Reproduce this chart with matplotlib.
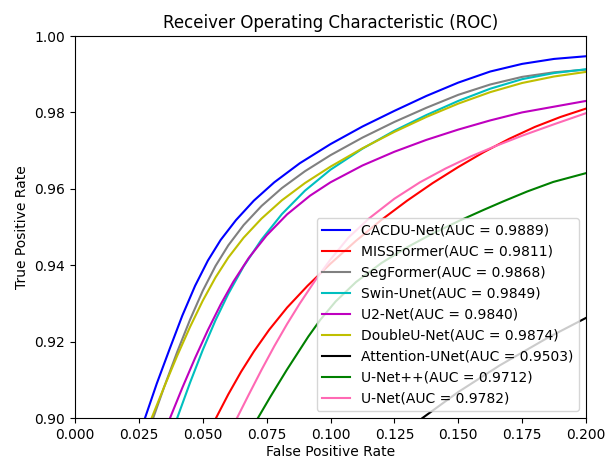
import matplotlib
matplotlib.use("Agg")

import matplotlib.pyplot as plt

# ROC curves (zoomed region), one FPR/TPR pair per model
cacdu_fpr = [0.0274, 0.032, 0.037, 0.042, 0.047, 0.052, 0.057, 0.063, 0.070, 0.078,
             0.088, 0.100, 0.1125, 0.125, 0.1375, 0.150, 0.1625, 0.175, 0.1875, 0.200]
cacdu_tpr = [0.900, 0.909, 0.918, 0.9268, 0.9346, 0.9412, 0.9466, 0.9518, 0.9569, 0.9617,
             0.9667, 0.9717, 0.9763, 0.9804, 0.9843, 0.9878, 0.9907, 0.9927, 0.9940, 0.9947]

missformer_fpr = [0.0552, 0.060, 0.065, 0.070, 0.076, 0.083, 0.091, 0.100, 0.110, 0.120,
                  0.130, 0.140, 0.150, 0.160, 0.170, 0.180, 0.190, 0.200]
missformer_tpr = [0.900, 0.9062, 0.9121, 0.9174, 0.9231, 0.9289, 0.9346, 0.9404, 0.9464,
                  0.9519, 0.9569, 0.9615, 0.9657, 0.9696, 0.9731, 0.9762, 0.9788, 0.9810]

segformer_fpr = [0.0306, 0.035, 0.040, 0.045, 0.050, 0.055, 0.060, 0.066, 0.073, 0.081,
                 0.090, 0.100, 0.1125, 0.125, 0.1375, 0.150, 0.1625, 0.175, 0.1875, 0.200]
segformer_tpr = [0.900, 0.9083, 0.9173, 0.9257, 0.9333, 0.9398, 0.9452, 0.9505, 0.9555,
                 0.9602, 0.9646, 0.9688, 0.9734, 0.9775, 0.9812, 0.9846, 0.9873, 0.9893,
                 0.9905, 0.9912]

swin_fpr = [0.040, 0.045, 0.050, 0.055, 0.060, 0.066, 0.073, 0.081, 0.090, 0.100, 0.1125,
            0.125, 0.1375, 0.150, 0.1625, 0.175, 0.1875, 0.200]
swin_tpr = [0.900, 0.9092, 0.9178, 0.9256, 0.9325, 0.9397, 0.9467, 0.9534, 0.9595, 0.9650,
            0.9705, 0.9752, 0.9793, 0.9830, 0.9862, 0.9887, 0.9903, 0.9913]

u2net_fpr = [0.0372, 0.042, 0.047, 0.052, 0.057, 0.062, 0.068, 0.075, 0.083, 0.092, 0.100,
             0.1125, 0.125, 0.1375, 0.150, 0.1625, 0.175, 0.1875, 0.200]
u2net_tpr = [0.900, 0.9079, 0.9157, 0.923, 0.9297, 0.9357, 0.9419, 0.9478, 0.9533, 0.9582,
             0.9617, 0.9661, 0.9697, 0.9728, 0.9755, 0.9779, 0.9800, 0.9815, 0.9830]

doubleu_fpr = [0.030, 0.035, 0.040, 0.045, 0.050, 0.055, 0.060, 0.066, 0.073, 0.081, 0.090,
               0.100, 0.1125, 0.125, 0.1375, 0.150, 0.1625, 0.175, 0.1875, 0.200]
doubleu_tpr = [0.900, 0.9083, 0.9163, 0.9238, 0.9307, 0.9368, 0.9420, 0.9472, 0.9522, 0.9570,
               0.9615, 0.9658, 0.9706, 0.9749, 0.9788, 0.9823, 0.9853, 0.9877, 0.9894, 0.9906]

attention_fpr = [0.136, 0.150, 0.1663, 0.185, 0.200]
attention_tpr = [0.900, 0.9068, 0.9138, 0.921, 0.9262]

unetpp_fpr = [0.0716, 0.0765, 0.0829, 0.0913, 0.096, 0.102, 0.110, 0.120, 0.130, 0.140,
              0.150, 0.160, 0.1676, 0.177, 0.1872, 0.200]
unetpp_tpr = [0.900, 0.9056, 0.9126, 0.9213, 0.9257, 0.9305, 0.9356, 0.9406, 0.9447, 0.9483,
              0.9515, 0.9545, 0.9567, 0.9593, 0.9618, 0.9641]

unet_fpr = [0.0634, 0.068, 0.073, 0.078, 0.083, 0.088, 0.094, 0.100, 0.107, 0.115, 0.125,
            0.135, 0.145, 0.155, 0.165, 0.175, 0.1875, 0.200]
unet_tpr = [0.900, 0.9061, 0.9126, 0.9188, 0.9246, 0.9300, 0.9360, 0.9415, 0.9472, 0.9522,
            0.9574, 0.9617, 0.9653, 0.9685, 0.9713, 0.9739, 0.9769, 0.9798]

models = ["CACDU-Net", "MISSFormer", "SegFormer", "Swin-Unet", "U2-Net",
          "DoubleU-Net", "Attention-UNet", "U-Net++", "U-Net"]
aucs = [0.9889, 0.9811, 0.9868, 0.9849, 0.9840, 0.9874, 0.9503, 0.9712, 0.9782]
colors = ["b", "r", "gray", "c", "m", "y", "k", "g", "hotpink"]
curves = [(cacdu_fpr, cacdu_tpr), (missformer_fpr, missformer_tpr),
          (segformer_fpr, segformer_tpr), (swin_fpr, swin_tpr),
          (u2net_fpr, u2net_tpr), (doubleu_fpr, doubleu_tpr),
          (attention_fpr, attention_tpr), (unetpp_fpr, unetpp_tpr),
          (unet_fpr, unet_tpr)]

fig = plt.figure(figsize=(6.07, 4.58), dpi=100)
ax = fig.add_axes([75 / 607, 40 / 458, 511 / 607, 382 / 458])

for name, auc, c, (fpr, tpr) in zip(models, aucs, colors, curves):
    ax.plot(fpr, tpr, color=c, lw=1.5, label=f"{name}(AUC = {auc:.4f})")

ax.set_xlim(0.0, 0.2)
ax.set_ylim(0.9, 1.0)
ax.set_xticks([0.0, 0.025, 0.05, 0.075, 0.1, 0.125, 0.15, 0.175, 0.2])
ax.set_yticks([0.90, 0.92, 0.94, 0.96, 0.98, 1.00])
ax.set_xlabel("False Positive Rate", labelpad=2)
ax.set_ylabel("True Positive Rate")
ax.set_title("Receiver Operating Characteristic (ROC)")
ax.legend(loc="lower right", fontsize=10)

fig.savefig("out.png", dpi=100)
